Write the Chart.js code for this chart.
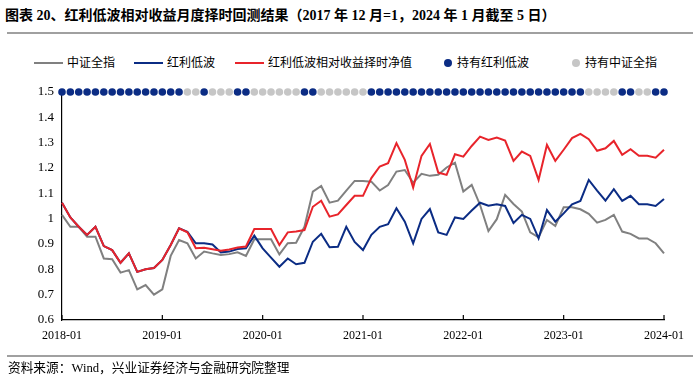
<!DOCTYPE html>
<html>
<head>
<meta charset="utf-8">
<script src="https://cdn.jsdelivr.net/npm/chart.js@4.4.1/dist/chart.umd.min.js"></script>
<style>
  body { margin: 0; background: #fff; }
  #wrap { position: relative; width: 700px; height: 376px; overflow: hidden;
          font-family: "Liberation Serif", "Noto Sans CJK SC", serif; color: #000; }
  #title { position: absolute; left: 5px; top: 4px; font-size: 14px; font-weight: bold; white-space: nowrap; }
  .rule { position: absolute; left: 7px; width: 686px; height: 2px; background: #a0a0a0; }
  .lg-key { position: absolute; }
  .lg-text { position: absolute; font-size: 12px; line-height: 16px; white-space: nowrap; }
  #source { position: absolute; left: 8px; top: 357px; font-size: 12.7px; white-space: nowrap; }
  canvas { position: absolute; left: 0; top: 0; }
</style>
</head>
<body>
<div id="wrap">
  <div id="title">图表 20、红利低波相对收益月度择时回测结果（2017 年 12 月=1，2024 年 1 月截至 5 日）</div>
  <div class="rule" style="top:32px"></div>
  <div id="legend"></div>
  <canvas id="backtestChart" width="700" height="376"></canvas>
  <div class="rule" style="top:355px"></div>
  <div id="source">资料来源：Wind，兴业证券经济与金融研究院整理</div>
</div>
<script>
// monthly, 2018-01 .. 2024-01
const months = [];
for (let y = 2018; y <= 2024; y++) {
    for (let m = 1; m <= 12; m++) {
        if (y === 2024 && m > 1) break;
        months.push(y + '-' + String(m).padStart(2, '0'));
    }
}

const csiAll = [
    1.015, 0.968, 0.968, 0.929, 0.929, 0.843, 0.840, 0.787, 0.797, 0.721, 0.738, 0.700,
    0.721, 0.853, 0.916, 0.903, 0.843, 0.870, 0.863, 0.857, 0.860, 0.867, 0.853, 0.919,
    0.919, 0.919, 0.859, 0.903, 0.905, 0.968, 1.107, 1.129, 1.063, 1.071, 1.111, 1.149,
    1.149, 1.146, 1.111, 1.133, 1.186, 1.192, 1.142, 1.177, 1.169, 1.173, 1.202, 1.221,
    1.107, 1.133, 1.054, 0.951, 0.998, 1.094, 1.058, 1.028, 0.946, 0.926, 0.995, 0.971,
    1.045, 1.045, 1.037, 1.019, 0.984, 0.995, 1.015, 0.949, 0.940, 0.922, 0.922, 0.903,
    0.863
];
const divLowVol = [
    1.063, 1.005, 0.968, 0.936, 0.968, 0.892, 0.876, 0.826, 0.863, 0.790, 0.800, 0.805,
    0.837, 0.896, 0.962, 0.948, 0.903, 0.903, 0.898, 0.867, 0.870, 0.880, 0.883, 0.933,
    0.883, 0.846, 0.810, 0.843, 0.820, 0.826, 0.909, 0.940, 0.887, 0.889, 0.968, 0.908,
    0.876, 0.936, 0.968, 0.978, 1.041, 0.988, 0.903, 0.999, 1.038, 0.946, 0.936, 1.005,
    0.999, 1.032, 1.063, 1.051, 1.057, 1.050, 0.983, 1.015, 0.999, 0.922, 1.034, 0.988,
    1.021, 1.057, 1.070, 1.153, 1.111, 1.071, 1.116, 1.070, 1.090, 1.057, 1.057, 1.050,
    1.078
];
const timingNav = [
    1.063, 1.005, 0.968, 0.936, 0.968, 0.892, 0.876, 0.826, 0.863, 0.790, 0.800, 0.805,
    0.837, 0.896, 0.962, 0.946, 0.883, 0.885, 0.879, 0.873, 0.878, 0.886, 0.890, 0.959,
    0.959, 0.959, 0.896, 0.946, 0.949, 0.955, 1.047, 1.071, 1.008, 1.017, 1.054, 1.090,
    1.090, 1.160, 1.206, 1.219, 1.298, 1.232, 1.123, 1.248, 1.295, 1.182, 1.173, 1.254,
    1.245, 1.287, 1.324, 1.311, 1.320, 1.308, 1.228, 1.265, 1.248, 1.153, 1.291, 1.228,
    1.272, 1.318, 1.335, 1.314, 1.268, 1.278, 1.307, 1.252, 1.274, 1.248, 1.248, 1.241,
    1.272
];
// 1 = 持有红利低波, 0 = 持有中证全指
const holdDiv = [
    1, 1, 1, 1, 1, 1, 1, 1, 1, 1, 1, 1, 1, 1, 1, 0, 0, 1, 0, 0, 0, 1, 1, 0,
    0, 0, 0, 0, 0, 1, 1, 0, 0, 0, 0, 0, 0, 1, 1, 1, 1, 1, 1, 1, 1, 1, 1, 1,
    1, 1, 1, 1, 1, 1, 1, 1, 1, 1, 1, 1, 1, 1, 1, 0, 0, 0, 0, 1, 1, 0, 0, 1,
    1
];
const holdLevel = 1.5;

const GRAY = '#808080', BLUE = '#0b2c84', RED = '#e8242b', LIGHT = '#c6c6c6';

const datasets = [
    { label: '中证全指', data: csiAll, borderColor: GRAY, borderWidth: 2, pointRadius: 0, order: 2 },
    { label: '红利低波', data: divLowVol, borderColor: BLUE, borderWidth: 2, pointRadius: 0, order: 1 },
    { label: '红利低波相对收益择时净值', data: timingNav, borderColor: RED, borderWidth: 2, pointRadius: 0, order: 0 },
    { label: '持有红利低波', data: holdDiv.map(h => h ? holdLevel : null), showLine: false,
      pointRadius: 3.8, pointBackgroundColor: BLUE, pointBorderWidth: 0, borderColor: BLUE, clip: false, order: 3 },
    { label: '持有中证全指', data: holdDiv.map(h => h ? null : holdLevel), showLine: false,
      pointRadius: 3.8, pointBackgroundColor: LIGHT, pointBorderWidth: 0, borderColor: LIGHT, clip: false, order: 3 }
];

// html legend
const legendLeft = [34, 134, 235, 444, 572];
const legendEl = document.getElementById('legend');
datasets.forEach((ds, i) => {
    const key = document.createElement('div');
    key.className = 'lg-key';
    const txt = document.createElement('div');
    txt.className = 'lg-text';
    txt.textContent = ds.label;
    if (ds.showLine === false) {
        key.style.cssText = 'left:' + legendLeft[i] + 'px;top:59px;width:8px;height:8px;border-radius:50%;background:' + ds.pointBackgroundColor;
        txt.style.left = (legendLeft[i] + 13) + 'px';
    } else {
        key.style.cssText = 'left:' + legendLeft[i] + 'px;top:62px;width:29px;height:2px;background:' + ds.borderColor;
        txt.style.left = (legendLeft[i] + 33) + 'px';
    }
    txt.style.top = '55px';
    legendEl.appendChild(key);
    legendEl.appendChild(txt);
});

const innerTicks = {
    id: 'innerTicks',
    afterDraw(chart) {
        const s = chart.scales.x, c = chart.ctx, bottom = chart.chartArea.bottom;
        c.save();
        c.strokeStyle = '#000';
        c.lineWidth = 1.2;
        s.ticks.forEach((t, i) => {
            const x = s.getPixelForTick(i);
            c.beginPath();
            c.moveTo(x, bottom);
            c.lineTo(x, bottom - 5);
            c.stroke();
        });
        c.restore();
    }
};

const ctx = document.getElementById('backtestChart').getContext('2d');
const backtestChart = new Chart(ctx, {
    type: 'line',
    data: { labels: months, datasets: datasets },
    options: {
        responsive: false,
        animation: false,
        events: [],
        layout: { padding: { left: 8, right: 36, top: 92, bottom: 26 } },
        elements: { line: { tension: 0 } },
        plugins: {
            legend: { display: false },
            tooltip: { enabled: false }
        },
        scales: {
            x: {
                grid: { display: false, drawTicks: false },
                border: { display: true, color: '#000', width: 1.2 },
                afterBuildTicks: s => { s.ticks = s.ticks.filter(t => t.value % 12 === 0); },
                afterFit: s => { s.height = 30; },
                ticks: {
                    autoSkip: false, maxRotation: 0, padding: 9, color: '#000',
                    font: { family: 'Liberation Serif', size: 12 }
                }
            },
            y: {
                min: 0.6,
                max: 1.5,
                grid: { display: false, drawTicks: false },
                border: { display: true, color: '#000', width: 1.2 },
                afterFit: s => { s.width = 54; },
                ticks: {
                    stepSize: 0.1, padding: 8, color: '#000',
                    font: { family: 'Liberation Serif', size: 13 },
                    callback: v => String(Math.round(v * 10) / 10)
                }
            }
        }
    },
    plugins: [innerTicks]
});
</script>
</body>
</html>
